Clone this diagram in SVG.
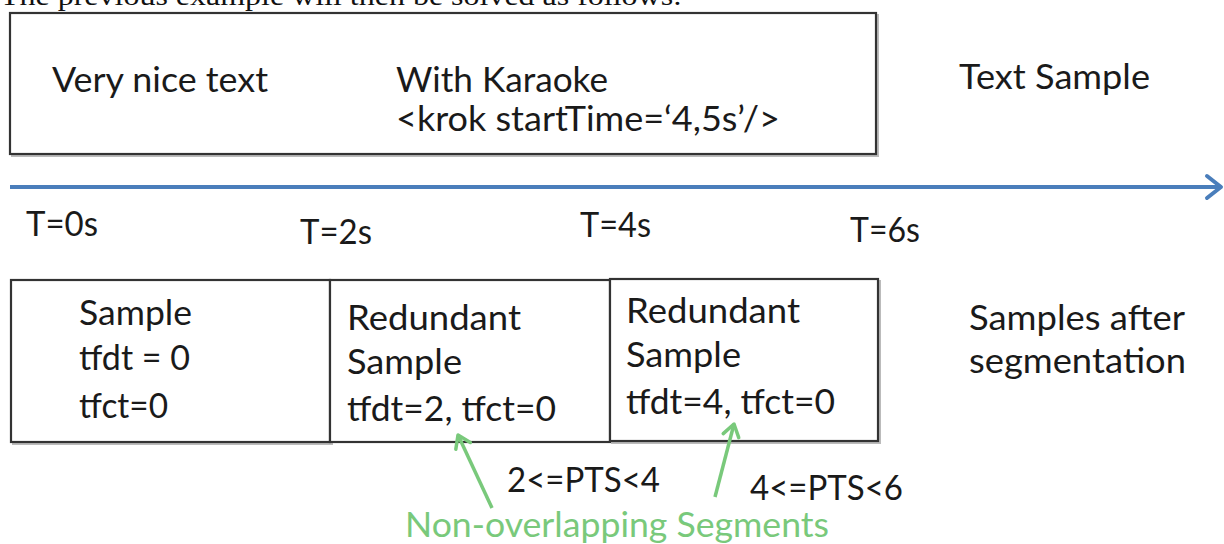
<svg xmlns="http://www.w3.org/2000/svg" width="1224" height="544" viewBox="0 0 1224 544">
<style>
.t{font-family:Lato,"Liberation Sans",sans-serif;font-size:34px;fill:#1a1a1a}
.s{font-family:"Liberation Serif","Times New Roman",serif;font-size:27px;fill:#111}
.box{fill:#fff;stroke:#333;stroke-width:2.2}
.shadow{fill:none;stroke:#bbb;stroke-width:2}
.gt{font-family:Lato,"Liberation Sans",sans-serif;font-size:34px;fill:#79c97b}
.gline{stroke:#79c97b;stroke-width:3.5;fill:none}
</style>
<defs>
<marker id="blueHead" markerUnits="userSpaceOnUse" viewBox="0 0 24 28" refX="20" refY="14" markerWidth="24" markerHeight="28" orient="auto">
<path d="M6 3 L20 14 L6 25" fill="none" stroke="#4a7ebb" stroke-width="4" stroke-linejoin="round" stroke-linecap="round"/>
</marker>
<marker id="greenHead" markerUnits="userSpaceOnUse" viewBox="0 0 20 20" refX="16" refY="10" markerWidth="20" markerHeight="20" orient="auto">
<path d="M4 2 L16 10 L4 18" fill="none" stroke="#79c97b" stroke-width="3.5" stroke-linejoin="round" stroke-linecap="round"/>
</marker>
</defs>
<rect width="1224" height="544" fill="#fff"/>

<g id="caption">
<text class="s" x="0" y="5" textLength="682" lengthAdjust="spacingAndGlyphs">The previous example will then be solved as follows:</text>
</g>

<g id="text-sample-box">
<rect class="shadow" x="12" y="15" width="866" height="141"/>
<rect class="box" x="10" y="13" width="866" height="141"/>
<text class="t" x="52" y="92" textLength="216" lengthAdjust="spacingAndGlyphs">Very nice text</text>
<text class="t" x="396" y="92" textLength="212" lengthAdjust="spacingAndGlyphs">With Karaoke</text>
<text class="t" x="396" y="131" textLength="384" lengthAdjust="spacingAndGlyphs">&lt;krok startTime=‘4,5s’/&gt;</text>
</g>

<g id="label-text-sample">
<text class="t" x="959" y="89" textLength="191" lengthAdjust="spacingAndGlyphs">Text Sample</text>
</g>

<g id="time-labels">
<text class="t" x="26" y="236" textLength="72" lengthAdjust="spacingAndGlyphs">T=0s</text>
<text class="t" x="300" y="244" textLength="72" lengthAdjust="spacingAndGlyphs">T=2s</text>
<text class="t" x="580" y="237" textLength="71" lengthAdjust="spacingAndGlyphs">T=4s</text>
<text class="t" x="850" y="242" textLength="70" lengthAdjust="spacingAndGlyphs">T=6s</text>
</g>

<g id="sample-1">
<rect class="shadow" x="13" y="282" width="319" height="162"/>
<rect class="box" x="11" y="280" width="319" height="162"/>
<text class="t" x="79" y="325" textLength="113" lengthAdjust="spacingAndGlyphs">Sample</text>
<text class="t" x="79" y="370" textLength="111" lengthAdjust="spacingAndGlyphs">tfdt = 0</text>
<text class="t" x="79" y="418" textLength="89" lengthAdjust="spacingAndGlyphs">tfct=0</text>
</g>

<g id="sample-2">
<rect class="box" x="330" y="280" width="280" height="162"/>
<text class="t" x="347" y="330" textLength="174" lengthAdjust="spacingAndGlyphs">Redundant</text>
<text class="t" x="347" y="374" textLength="115" lengthAdjust="spacingAndGlyphs">Sample</text>
<text class="t" x="347" y="421" textLength="209" lengthAdjust="spacingAndGlyphs">tfdt=2, tfct=0</text>
</g>

<g id="sample-3">
<rect class="shadow" x="612" y="281" width="268" height="162"/>
<rect class="box" x="610" y="279" width="268" height="162"/>
<text class="t" x="626" y="323" textLength="174" lengthAdjust="spacingAndGlyphs">Redundant</text>
<text class="t" x="626" y="367" textLength="115" lengthAdjust="spacingAndGlyphs">Sample</text>
<text class="t" x="626" y="414" textLength="209" lengthAdjust="spacingAndGlyphs">tfdt=4, tfct=0</text>
</g>

<g id="label-samples-after">
<text class="t" x="969" y="330" textLength="216" lengthAdjust="spacingAndGlyphs">Samples after</text>
<text class="t" x="969" y="373" textLength="217" lengthAdjust="spacingAndGlyphs">segmentation</text>
</g>

<g id="pts-labels">
<text class="t" x="507" y="492" textLength="153" lengthAdjust="spacingAndGlyphs">2&lt;=PTS&lt;4</text>
<text class="t" x="750" y="500" textLength="153" lengthAdjust="spacingAndGlyphs">4&lt;=PTS&lt;6</text>
</g>

<g id="label-non-overlapping">
<text class="gt" x="405" y="537" textLength="424" lengthAdjust="spacingAndGlyphs">Non-overlapping Segments</text>
</g>

<g id="connectors">
<line x1="10" y1="187" x2="1221" y2="187" stroke="#4a7ebb" stroke-width="4" marker-end="url(#blueHead)"/>
<line class="gline" x1="492" y1="508" x2="458" y2="435" marker-end="url(#greenHead)"/>
<line class="gline" x1="715" y1="497" x2="734" y2="424" marker-end="url(#greenHead)"/>
</g>
</svg>
